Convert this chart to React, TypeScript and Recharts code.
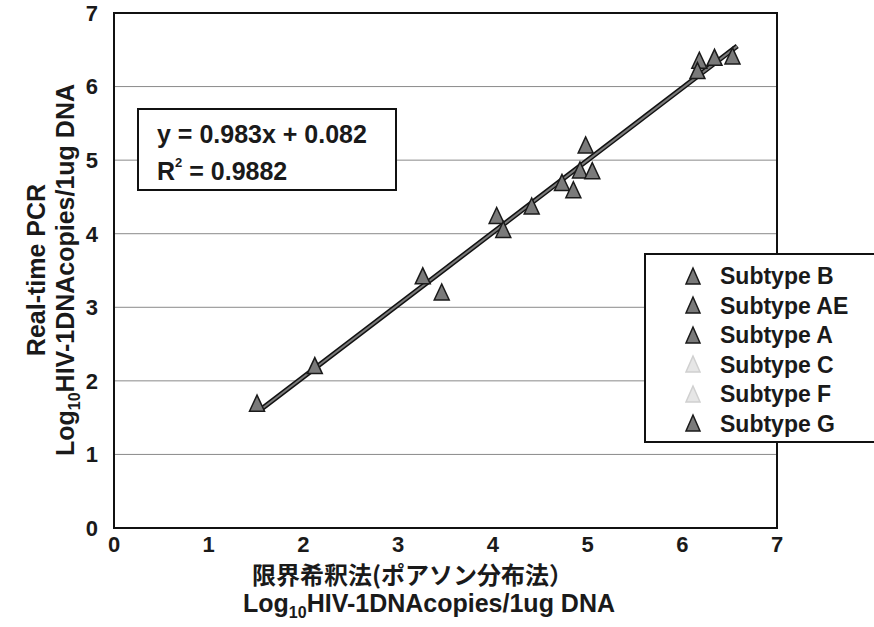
import React from 'react';
import { ScatterChart, Scatter, XAxis, YAxis, ZAxis, CartesianGrid, ReferenceArea } from 'recharts';

const xTicks = [0, 1, 2, 3, 4, 5, 6, 7];
const yTicks = [0, 1, 2, 3, 4, 5, 6, 7];

const subtypeB = [
    { x: 1.51, y: 1.67 },
    { x: 2.12, y: 2.18 },
    { x: 3.26, y: 3.4 },
    { x: 4.04, y: 4.22 },
    { x: 4.41, y: 4.35 },
    { x: 4.73, y: 4.67 },
    { x: 4.92, y: 4.84 },
    { x: 6.18, y: 6.33 },
    { x: 6.34, y: 6.37 },
];
const subtypeAE = [
    { x: 3.46, y: 3.18 },
    { x: 4.11, y: 4.03 },
    { x: 4.85, y: 4.57 },
    { x: 6.53, y: 6.39 },
];
const subtypeA = [
    { x: 5.05, y: 4.83 },
    { x: 6.16, y: 6.19 },
];
const subtypeG = [{ x: 4.98, y: 5.18 }];

const fitLine = [
    { x: 1.55, y: 1.61 },
    { x: 6.58, y: 6.55 },
];

const legendItems = [
    { name: 'Subtype B', faint: false },
    { name: 'Subtype AE', faint: false },
    { name: 'Subtype A', faint: false },
    { name: 'Subtype C', faint: true },
    { name: 'Subtype F', faint: true },
    { name: 'Subtype G', faint: false },
];

const latin = '"Liberation Sans", Arial, sans-serif';
const tickStyle = { fill: '#1a1a1a', fontSize: 22, fontWeight: 700, fontFamily: latin };

// triangle marker, centred on the point
const Tri = (props: any) => {
    const { cx, cy } = props;
    if (cx == null || cy == null) return <g />;
    return (
        <polygon
            points={`${cx},${cy - 10} ${cx - 7.5},${cy + 6} ${cx + 7.5},${cy + 6}`}
            fill="#7a7a7a"
            stroke="#1a1a1a"
            strokeWidth={1.5}
        />
    );
};

const NoDot = () => <g />;

const App = () => {
    return (
        <div style={{ position: 'absolute', left: 0, top: 0, width: 874, height: 627, background: '#fff' }}>
            <ScatterChart width={874} height={627} margin={{ top: 13, right: 97, bottom: 0, left: 0 }}>
                <CartesianGrid vertical={false} stroke="#8a8a8a" strokeWidth={1} />
                <XAxis
                    type="number"
                    dataKey="x"
                    domain={[0, 7]}
                    ticks={xTicks}
                    height={99}
                    tick={tickStyle}
                    tickLine={false}
                    tickMargin={2}
                    axisLine={{ stroke: '#111', strokeWidth: 2 }}
                />
                <YAxis
                    type="number"
                    dataKey="y"
                    domain={[0, 7]}
                    ticks={yTicks}
                    width={114}
                    tick={tickStyle}
                    tickLine={false}
                    tickMargin={10}
                    axisLine={{ stroke: '#111', strokeWidth: 2 }}
                />
                <ZAxis range={[100, 100]} />
                <ReferenceArea x1={0} x2={7} y1={0} y2={7} fill="none" stroke="#111" strokeWidth={2} />
                <Scatter data={fitLine} line={{ stroke: '#111', strokeWidth: 5 }} shape={NoDot} isAnimationActive={false} />
                <Scatter data={fitLine} line={{ stroke: '#7a7a7a', strokeWidth: 2 }} shape={NoDot} isAnimationActive={false} />
                <Scatter name="Subtype B" data={subtypeB} shape={Tri} isAnimationActive={false} />
                <Scatter name="Subtype AE" data={subtypeAE} shape={Tri} isAnimationActive={false} />
                <Scatter name="Subtype A" data={subtypeA} shape={Tri} isAnimationActive={false} />
                <Scatter name="Subtype G" data={subtypeG} shape={Tri} isAnimationActive={false} />
            </ScatterChart>

            {/* equation box */}
            <div
                style={{
                    position: 'absolute',
                    left: 137,
                    top: 108,
                    width: 260,
                    height: 83,
                    border: '2px solid #111',
                    background: '#fff',
                    fontFamily: latin,
                    fontWeight: 700,
                    fontSize: 25,
                    color: '#1a1a1a',
                    lineHeight: '37px',
                    paddingLeft: 18,
                    paddingTop: 6,
                    boxSizing: 'border-box',
                }}
            >
                <div>y = 0.983x + 0.082</div>
                <div>
                    R<sup style={{ fontSize: 13, verticalAlign: 'top', lineHeight: '20px' }}>2</sup> = 0.9882
                </div>
            </div>

            {/* legend box */}
            <div
                style={{
                    position: 'absolute',
                    left: 644,
                    top: 253,
                    width: 240,
                    height: 190,
                    border: '2px solid #111',
                    background: '#fff',
                    boxSizing: 'border-box',
                    paddingTop: 7,
                    fontFamily: latin,
                    fontWeight: 700,
                    fontSize: 23,
                    color: '#1a1a1a',
                }}
            >
                {legendItems.map((it) => (
                    <div key={it.name} style={{ height: 29.5, display: 'flex', alignItems: 'center' }}>
                        <svg width={74} height={24} style={{ flex: 'none' }}>
                            <polygon
                                points="47,3 40,19 54,19"
                                fill={it.faint ? '#e6e6e6' : '#7a7a7a'}
                                stroke={it.faint ? '#d0d0d0' : '#1a1a1a'}
                                strokeWidth={1.5}
                            />
                        </svg>
                        <span>{it.name}</span>
                    </div>
                ))}
            </div>

            {/* y axis title */}
            <div
                style={{
                    position: 'absolute',
                    left: 52,
                    top: 270,
                    width: 480,
                    transform: 'translate(-50%, -50%) rotate(-90deg)',
                    textAlign: 'center',
                    fontFamily: latin,
                    fontWeight: 700,
                    fontSize: 25,
                    lineHeight: '29px',
                    color: '#1a1a1a',
                }}
            >
                <div>Real-time PCR</div>
                <div>
                    Log<span style={{ fontSize: 16, position: 'relative', top: 6 }}>10</span>HIV-1DNAcopies/1ug DNA
                </div>
            </div>

            {/* x axis title */}
            <div
                style={{
                    position: 'absolute',
                    left: 243,
                    top: 558,
                    color: '#1a1a1a',
                    fontWeight: 700,
                    whiteSpace: 'nowrap',
                }}
            >
                <div style={{ fontFamily: '"Noto Sans CJK JP", sans-serif', fontSize: 24, lineHeight: '31px', paddingLeft: 9 }}>
                    限界希釈法(ポアソン分布法）
                </div>
                <div style={{ fontFamily: latin, fontSize: 25, lineHeight: '29px' }}>
                    Log<span style={{ fontSize: 16, position: 'relative', top: 6 }}>10</span>HIV-1DNAcopies/1ug DNA
                </div>
            </div>
        </div>
    );
};

export default App;
